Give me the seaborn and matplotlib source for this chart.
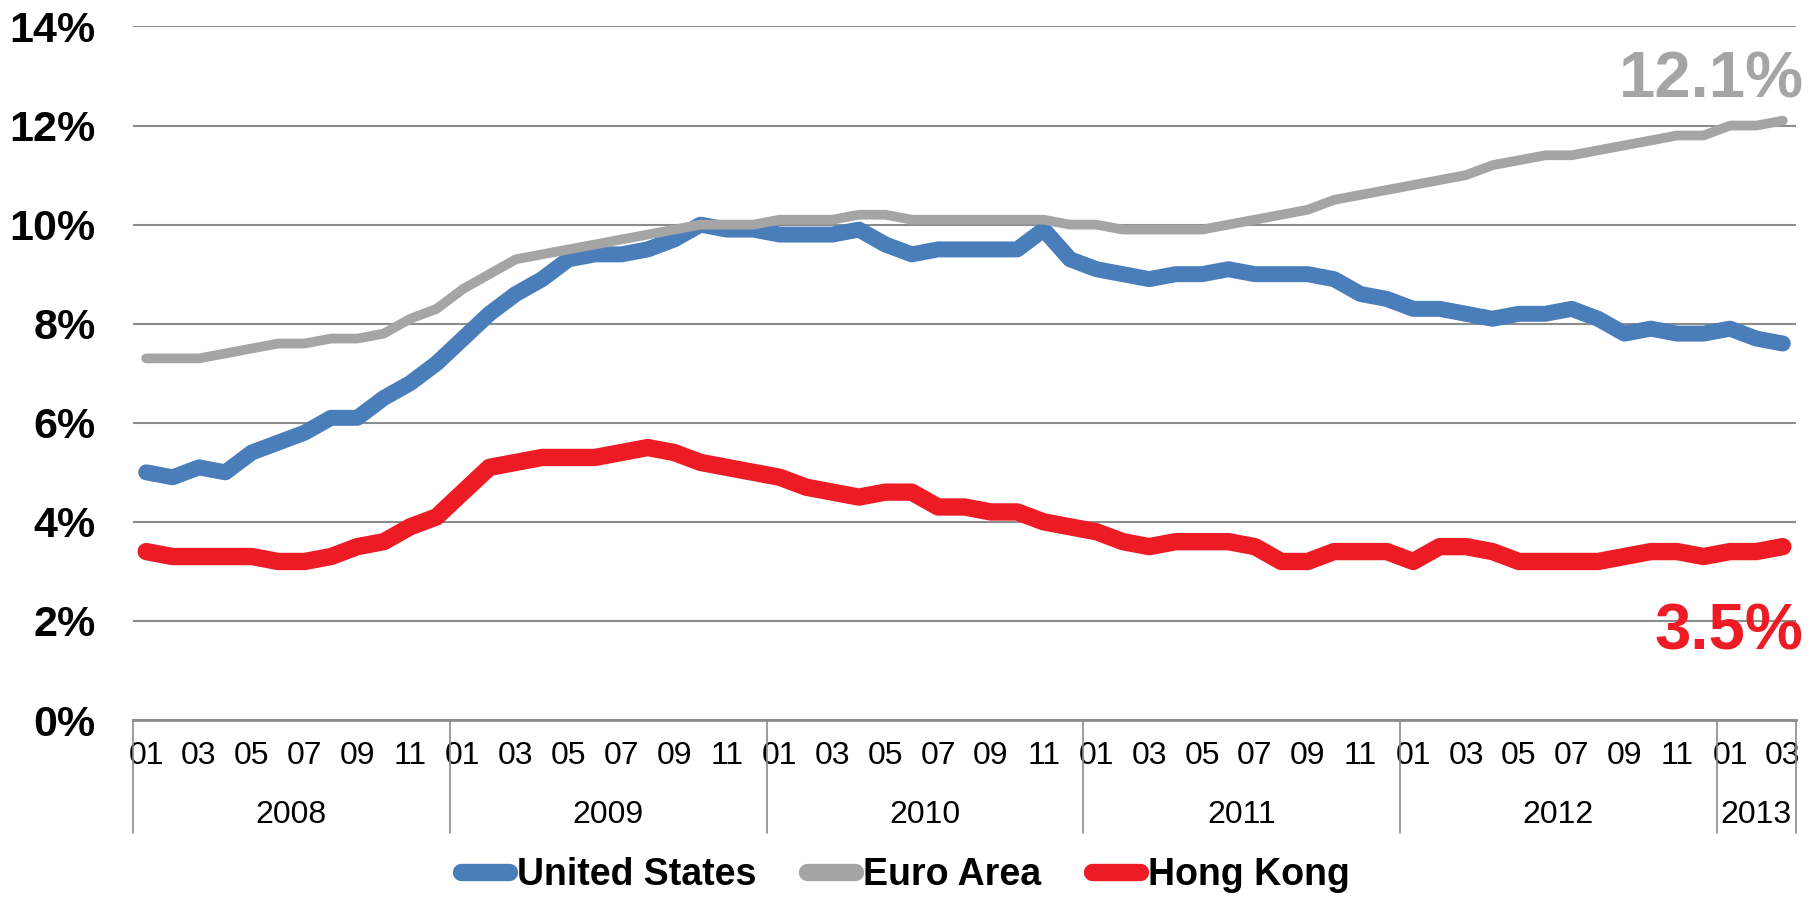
import numpy as np
import pandas as pd
import matplotlib
matplotlib.use("Agg")
import matplotlib.pyplot as plt
import matplotlib.transforms as mtransforms
from matplotlib.lines import Line2D
import seaborn as sns

# ---------------- data ----------------
years = ["2008", "2009", "2010", "2011", "2012", "2013"]
months_per_year = [12, 12, 12, 12, 12, 3]
month_labels = ["01", "03", "05", "07", "09", "11"]

united_states = [
    5.0, 4.9, 5.1, 5.0, 5.4, 5.6, 5.8, 6.1, 6.1, 6.5, 6.8, 7.2,
    7.7, 8.2, 8.6, 8.9, 9.3, 9.4, 9.4, 9.5, 9.7, 10.0, 9.9, 9.9,
    9.8, 9.8, 9.8, 9.9, 9.6, 9.4, 9.5, 9.5, 9.5, 9.5, 9.9, 9.3,
    9.1, 9.0, 8.9, 9.0, 9.0, 9.1, 9.0, 9.0, 9.0, 8.9, 8.6, 8.5,
    8.3, 8.3, 8.2, 8.1, 8.2, 8.2, 8.3, 8.1, 7.8, 7.9, 7.8, 7.8,
    7.9, 7.7, 7.6,
]
euro_area = [
    7.3, 7.3, 7.3, 7.4, 7.5, 7.6, 7.6, 7.7, 7.7, 7.8, 8.1, 8.3,
    8.7, 9.0, 9.3, 9.4, 9.5, 9.6, 9.7, 9.8, 9.9, 10.0, 10.0, 10.0,
    10.1, 10.1, 10.1, 10.2, 10.2, 10.1, 10.1, 10.1, 10.1, 10.1, 10.1, 10.0,
    10.0, 9.9, 9.9, 9.9, 9.9, 10.0, 10.1, 10.2, 10.3, 10.5, 10.6, 10.7,
    10.8, 10.9, 11.0, 11.2, 11.3, 11.4, 11.4, 11.5, 11.6, 11.7, 11.8, 11.8,
    12.0, 12.0, 12.1,
]
hong_kong = [
    3.4, 3.3, 3.3, 3.3, 3.3, 3.2, 3.2, 3.3, 3.5, 3.6, 3.9, 4.1,
    4.6, 5.1, 5.2, 5.3, 5.3, 5.3, 5.4, 5.5, 5.4, 5.2, 5.1, 5.0,
    4.9, 4.7, 4.6, 4.5, 4.6, 4.6, 4.3, 4.3, 4.2, 4.2, 4.0, 3.9,
    3.8, 3.6, 3.5, 3.6, 3.6, 3.6, 3.5, 3.2, 3.2, 3.4, 3.4, 3.4,
    3.2, 3.5, 3.5, 3.4, 3.2, 3.2, 3.2, 3.2, 3.3, 3.4, 3.4, 3.3,
    3.4, 3.4, 3.5,
]
series_names = ["United States", "Euro Area", "Hong Kong"]
y_ticks = [0, 2, 4, 6, 8, 10, 12, 14]
y_tick_labels = ["0%", "2%", "4%", "6%", "8%", "10%", "12%", "14%"]
end_labels = ["12.1%", "3.5%"]

# ---------------- styling ----------------
colors = {"United States": "#4A7EBB", "Euro Area": "#A5A5A5", "Hong Kong": "#ED1C24"}
widths = {"United States": 11.5, "Euro Area": 7.0, "Hong Kong": 12.5}

sns.set_theme(style="white")
plt.rcParams["font.family"] = ["Liberation Sans", "DejaVu Sans"]
plt.rcParams["text.color"] = "black"
plt.rcParams["xtick.color"] = "black"
plt.rcParams["ytick.color"] = "black"
plt.rcParams["xtick.labelcolor"] = "black"
plt.rcParams["ytick.labelcolor"] = "black"

n = len(united_states)
df = pd.DataFrame({
    "idx": np.arange(n),
    "United States": united_states,
    "Euro Area": euro_area,
    "Hong Kong": hong_kong,
})

W, H = 1813, 897
fig = plt.figure(figsize=(W / 100, H / 100), dpi=100)
left, right = 133 / W, 1796 / W
bottom, top = (H - 720) / H, (H - 26.5) / H
ax = fig.add_axes([left, bottom, right - left, top - bottom])

for name in series_names:
    sns.lineplot(data=df, x="idx", y=name, ax=ax, color=colors[name],
                 linewidth=widths[name], legend=False)
for line in ax.lines:
    line.set_solid_capstyle("round")
    line.set_solid_joinstyle("round")
    line.set_clip_on(False)

ax.set_xlim(-0.5, n - 0.5)
ax.set_ylim(0, 14)
ax.set_xlabel("")
ax.set_ylabel("")

# grid
ax.set_yticks(y_ticks)
ax.set_yticklabels(y_tick_labels, fontsize=31, fontweight="bold", color="black")
ax.tick_params(axis="y", length=0, pad=27, labelcolor="black")
ax.yaxis.grid(True, color="#8C8C8C", linewidth=1.5)
ax.set_axisbelow(True)
for s in ["top", "right", "left"]:
    ax.spines[s].set_visible(False)
ax.spines["bottom"].set_color("#8C8C8C")
ax.spines["bottom"].set_linewidth(2)

# month tick labels
pos = []
labs = []
start = 0
for yr, m in zip(years, months_per_year):
    for k in range(0, m, 2):
        pos.append(start + k)
        labs.append(month_labels[k // 2])
    start += m
ax.set_xticks(pos)
ax.set_xticklabels(labs, fontsize=23, color="black")
ax.tick_params(axis="x", length=0, pad=15, labelcolor="black")

# year separators and year labels
trans = mtransforms.blended_transform_factory(ax.transData, ax.transAxes)
start = 0
bounds = [-0.5]
for yr, m in zip(years, months_per_year):
    center = start + (m - 1) / 2
    ax.text(center, -0.137, yr, transform=trans, ha="center", va="center",
            fontsize=23, color="black")
    start += m
    bounds.append(start - 0.5)
for b in bounds:
    ax.plot([b, b], [0, -0.163], transform=trans, color="#8C8C8C",
            linewidth=1.2, clip_on=False)

# end annotations
ax.annotate(end_labels[0], xy=(n - 1, euro_area[-1]), xytext=(15, 17),
            textcoords="offset points", ha="right", va="baseline",
            fontsize=47, fontweight="bold", color=colors["Euro Area"])
ax.annotate(end_labels[1], xy=(n - 1, hong_kong[-1]), xytext=(15, -74),
            textcoords="offset points", ha="right", va="baseline",
            fontsize=47, fontweight="bold", color=colors["Hong Kong"])

# legend
handles = [Line2D([0], [0], color=colors[nm], linewidth=12.5,
                  solid_capstyle="round") for nm in series_names]
leg = fig.legend(handles, series_names, loc="center", ncol=3,
                 bbox_to_anchor=(0.4995, 0.0245), frameon=False,
                 prop={"size": 27, "weight": "bold"},
                 handlelength=1.28, handletextpad=0.22, columnspacing=1.35)
for t in leg.get_texts():
    t.set_color("black")

fig.savefig("out.png", dpi=100)
